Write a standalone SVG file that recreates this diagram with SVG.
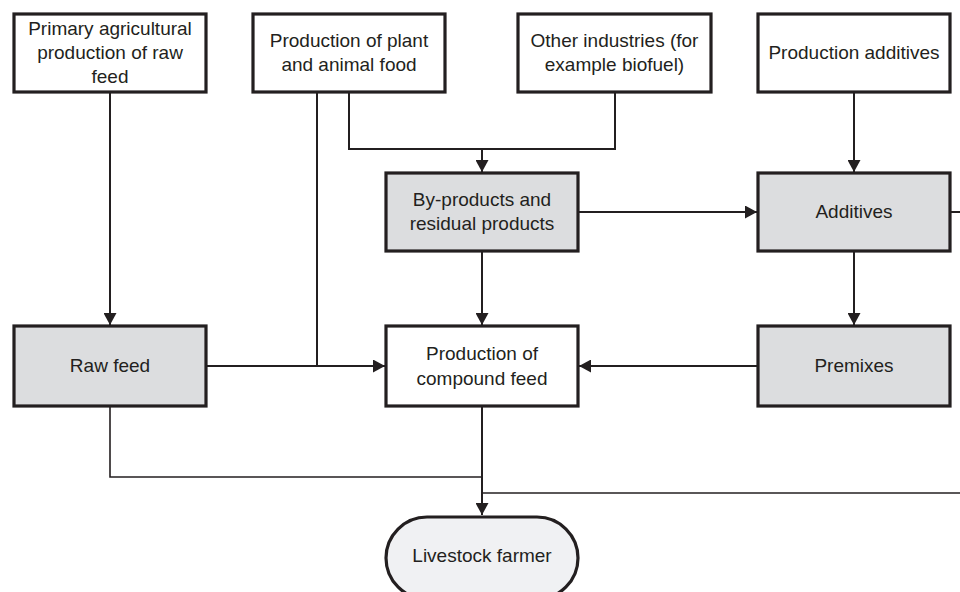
<svg xmlns="http://www.w3.org/2000/svg" width="960" height="592" viewBox="0 0 960 592">
<defs>
<style>
.box{fill:#ffffff;stroke:#231f20;stroke-width:3.2}
.grey{fill:#dcdddf}
.term{fill:#f0f1f3;stroke:#231f20;stroke-width:3.2}
.t{font-family:"Liberation Sans",Arial,sans-serif;font-size:19px;fill:#231f20;text-anchor:middle}
.c{fill:none;stroke:#231f20;stroke-width:2}
.c2{fill:none;stroke:#231f20;stroke-width:1.6}
</style>
<marker id="arr" markerUnits="userSpaceOnUse" markerWidth="12" markerHeight="13" refX="12" refY="6.5" orient="auto">
<path d="M0,0 L12,6.5 L0,13 z" fill="#231f20"/>
</marker>
</defs>
<rect width="960" height="592" fill="#ffffff"/>
<g id="connectors">
<path class="c" d="M110,93 V325" marker-end="url(#arr)"/>
<path class="c" d="M317,93 V366"/>
<path class="c" d="M207,366 H385" marker-end="url(#arr)"/>
<path class="c" d="M349,93 V149 H615 V93"/>
<path class="c" d="M482,149 V172" marker-end="url(#arr)"/>
<path class="c" d="M579,212 H757" marker-end="url(#arr)"/>
<path class="c" d="M951,212 H960"/>
<path class="c" d="M854,93 V172" marker-end="url(#arr)"/>
<path class="c" d="M854,252 V325" marker-end="url(#arr)"/>
<path class="c" d="M757,366 H579" marker-end="url(#arr)"/>
<path class="c" d="M482,252 V325" marker-end="url(#arr)"/>
<path class="c" d="M482,407 V515" marker-end="url(#arr)"/>
<path class="c2" d="M110,407 V477 H482"/>
<path class="c2" d="M960,493 H482"/>
</g>
<g id="primary">
<rect class="box" x="14" y="14" width="192" height="78"/>
<text class="t" x="110" y="35">Primary agricultural</text>
<text class="t" x="110" y="59">production of raw</text>
<text class="t" x="110" y="83">feed</text>
</g>
<g id="plant-animal-food">
<rect class="box" x="253" y="14" width="192" height="78"/>
<text class="t" x="349" y="47">Production of plant</text>
<text class="t" x="349" y="71">and animal food</text>
</g>
<g id="other-industries">
<rect class="box" x="518" y="14" width="193" height="78"/>
<text class="t" x="614.5" y="47">Other industries (for</text>
<text class="t" x="614.5" y="71">example biofuel)</text>
</g>
<g id="production-additives">
<rect class="box" x="758" y="14" width="192" height="78"/>
<text class="t" x="854" y="59">Production additives</text>
</g>
<g id="by-products">
<rect class="box grey" x="386" y="173" width="192" height="78"/>
<text class="t" x="482" y="206">By-products and</text>
<text class="t" x="482" y="230">residual products</text>
</g>
<g id="additives">
<rect class="box grey" x="758" y="173" width="192" height="78"/>
<text class="t" x="854" y="218">Additives</text>
</g>
<g id="raw-feed">
<rect class="box grey" x="14" y="326" width="192" height="80"/>
<text class="t" x="110" y="372">Raw feed</text>
</g>
<g id="compound-feed">
<rect class="box" x="386" y="326" width="192" height="80"/>
<text class="t" x="482" y="360">Production of</text>
<text class="t" x="482" y="385">compound feed</text>
</g>
<g id="premixes">
<rect class="box grey" x="758" y="326" width="192" height="80"/>
<text class="t" x="854" y="372">Premixes</text>
</g>
<g id="livestock-farmer">
<rect class="term" x="386" y="517" width="192" height="82" rx="41" ry="41"/>
<text class="t" x="482" y="562">Livestock farmer</text>
</g>
</svg>
